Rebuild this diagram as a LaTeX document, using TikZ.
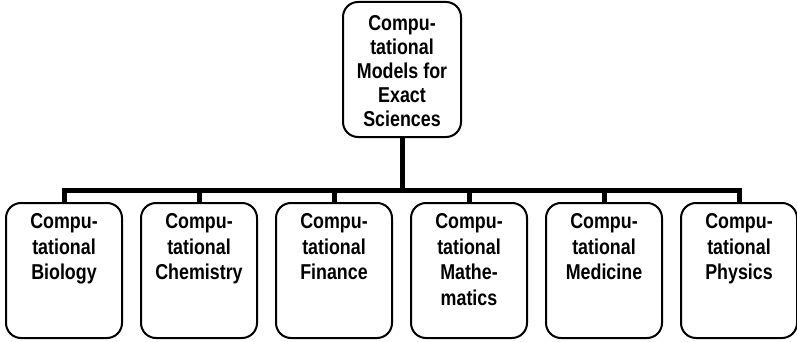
\documentclass[tikz,border=0pt]{standalone}
\usepackage{fontspec}
\newfontfamily\labfont[FakeStretch=0.83]{Liberation Sans}
\begin{document}
\begin{tikzpicture}[x=1pt,y=-1pt,
  box/.style={draw=black,line width=2pt,rounded corners=15pt,minimum width=116pt,minimum height=135pt,inner sep=0pt,fill=white},
  topbox/.style={box,minimum width=118pt},
  lab/.style={inner sep=0pt,anchor=north,align=center,font=\labfont\bfseries\fontsize{21.5pt}{25.5pt}\selectfont},
  toplab/.style={lab,font=\labfont\bfseries\fontsize{21.5pt}{23.8pt}\selectfont},
  conn/.style={line width=5pt,line join=miter}]
\useasboundingbox (0,0) rectangle (797,342);
\node[topbox] (top) at (402,69.5) {};
\coordinate (bar) at (402,190.5);
\foreach \i/\x in {1/64,2/199,3/334,4/469,5/604,6/739}{
  \node[box] (c\i) at (\x,270.5) {};
}
\foreach \i in {1,...,6}{
  \draw[conn] (top.south) -- (bar) -| (c\i.north);
}
\node[toplab] (tt) at (402,15.6) {Compu-\\tational\\Models for\\Exact\\Sciences};
\node[lab] (t1) at (64,213.6) {Compu-\\tational\\Biology};
\node[lab] (t2) at (199,213.6) {Compu-\\tational\\Chemistry};
\node[lab] (t3) at (334,213.6) {Compu-\\tational\\Finance};
\node[lab] (t4) at (469,213.6) {Compu-\\tational\\Mathe-\\matics};
\node[lab] (t5) at (604,213.6) {Compu-\\tational\\Medicine};
\node[lab] (t6) at (739,213.6) {Compu-\\tational\\Physics};
\end{tikzpicture}
\end{document}
